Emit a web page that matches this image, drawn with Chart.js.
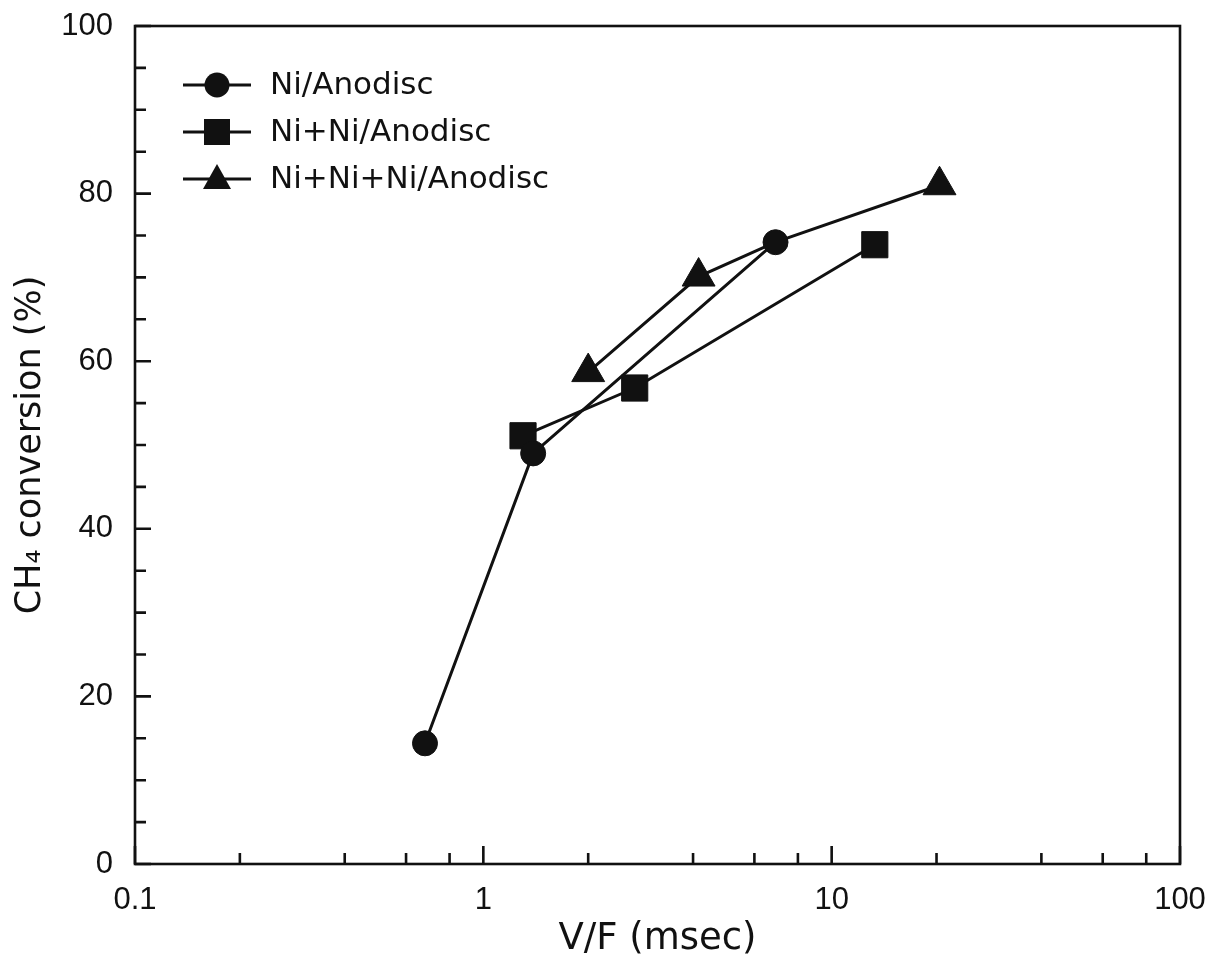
<!DOCTYPE html>
<html>
<head>
<meta charset="utf-8">
<script src="https://cdn.jsdelivr.net/npm/chart.js@4/dist/chart.umd.min.js"></script>
<style>
  body { margin: 0; background: #fff; }
  canvas { display: block; }
</style>
</head>
<body>
<canvas id="myChart" width="1214" height="962"></canvas>
<script>
// series (V/F in msec, CH4 conversion in %)
const seriesLabels = ['Ni/Anodisc', 'Ni+Ni/Anodisc', 'Ni+Ni+Ni/Anodisc'];
const niX = [0.68, 1.39, 6.9];
const niY = [14.4, 49.0, 74.2];
const ni2X = [1.30, 2.72, 13.3];
const ni2Y = [51.1, 56.8, 73.9];
const ni3X = [2.0, 4.15, 6.9, 20.4];
const ni3Y = [58.7, 70.1, 74.2, 81.0];
const xTicks = [0.1, 1, 10, 100];
const xMinor = [2, 4, 6, 8];
const yMin = 0, yMax = 100, yStep = 20, yMinorStep = 5;

const ink = '#111';
const styles = ['circle', 'rect', 'triangle'];
const radii = [12.5, 18.5, 19];

function toPoints(xs, ys) {
    return xs.map((v, i) => ({x: v, y: ys[i]}));
}

// inward ticks, closed frame and the legend drawn in the top-left corner
const frameTicks = {
    id: 'frameTicks',
    afterDraw(chart) {
        const {ctx, chartArea: a, scales: {x, y}} = chart;
        ctx.save();
        ctx.strokeStyle = ink;
        ctx.lineWidth = 2.6;
        ctx.strokeRect(a.left, a.top, a.right - a.left, a.bottom - a.top);

        ctx.beginPath();
        for (let v = yMin; v <= yMax; v += yMinorStep) {
            let py = y.getPixelForValue(v);
            let len = v % yStep === 0 ? 16 : 11;
            ctx.moveTo(a.left, py);
            ctx.lineTo(a.left + len, py);
        }
        for (let d of xTicks) {
            let px = x.getPixelForValue(d);
            ctx.moveTo(px, a.bottom);
            ctx.lineTo(px, a.bottom - 18);
            if (d < 100) {
                for (let m of xMinor) {
                    let pm = x.getPixelForValue(d * m);
                    ctx.moveTo(pm, a.bottom);
                    ctx.lineTo(pm, a.bottom - 11);
                }
            }
        }
        ctx.stroke();

        // legend
        ctx.font = '31px "DejaVu Sans"';
        ctx.textBaseline = 'middle';
        ctx.fillStyle = ink;
        ctx.lineWidth = 3;
        chart.data.datasets.forEach((ds, i) => {
            let ry = a.top + 59 + i * 47;
            ctx.beginPath();
            ctx.moveTo(a.left + 48, ry);
            ctx.lineTo(a.left + 116, ry);
            ctx.stroke();
            let cx = a.left + 82;
            ctx.beginPath();
            if (styles[i] === 'circle') {
                ctx.arc(cx, ry, 12.5, 0, Math.PI * 2);
            } else if (styles[i] === 'rect') {
                ctx.rect(cx - 13, ry - 13, 26, 26);
            } else {
                ctx.moveTo(cx, ry - 15);
                ctx.lineTo(cx + 14, ry + 10);
                ctx.lineTo(cx - 14, ry + 10);
                ctx.closePath();
            }
            ctx.fill();
            ctx.fillText(ds.label, a.left + 135, ry + 1);
        });
        ctx.restore();
    }
};

function makeSet(label, xs, ys, i, radiusList) {
    return {
        label: label,
        data: toPoints(xs, ys),
        showLine: true,
        borderColor: ink,
        borderWidth: 3,
        backgroundColor: ink,
        pointStyle: styles[i],
        pointRadius: radiusList || radii[i],
        pointBorderWidth: 1,
        pointBorderColor: ink,
        pointBackgroundColor: ink
    };
}

const ctx = document.getElementById('myChart');
const myChart = new Chart(ctx, {
    type: 'scatter',
    data: {
        datasets: [
            makeSet(seriesLabels[0], niX, niY, 0),
            makeSet(seriesLabels[1], ni2X, ni2Y, 1),
            // third point sits under the circle marker
            makeSet(seriesLabels[2], ni3X, ni3Y, 2, [19, 19, 0, 19])
        ]
    },
    options: {
        responsive: false,
        animation: false,
        layout: { padding: { top: 26, right: 34, left: 0, bottom: 0 } },
        plugins: {
            legend: { display: false },
            tooltip: { enabled: false }
        },
        scales: {
            x: {
                type: 'logarithmic',
                min: 0.1,
                max: 100,
                afterBuildTicks: function (scale) {
                    scale.ticks = xTicks.map(v => ({value: v, major: true}));
                },
                afterFit: function (scale) {
                    scale.height = 98;
                    scale.paddingLeft = 0;
                    scale.paddingRight = 0;
                },
                grid: { display: false, drawTicks: false },
                border: { display: false },
                ticks: {
                    autoSkip: false,
                    maxRotation: 0,
                    padding: 18,
                    color: ink,
                    font: { family: '"Liberation Sans", Arial', size: 31 },
                    callback: function (v) { return String(v); }
                },
                title: {
                    display: true,
                    text: 'V/F (msec)',
                    color: ink,
                    padding: 0,
                    font: { family: '"DejaVu Sans"', size: 37 }
                }
            },
            y: {
                min: yMin,
                max: yMax,
                afterFit: function (scale) {
                    scale.width = 135;
                    scale.paddingTop = 0;
                    scale.paddingBottom = 0;
                },
                grid: { display: false, drawTicks: false },
                border: { display: false },
                ticks: {
                    stepSize: yStep,
                    padding: 22,
                    color: ink,
                    font: { family: '"Liberation Sans", Arial', size: 31 }
                },
                title: {
                    display: true,
                    text: 'CH\u2084 conversion (%)',
                    color: ink,
                    padding: { top: 10, bottom: 0 },
                    font: { family: '"DejaVu Sans"', size: 35 }
                }
            }
        }
    },
    plugins: [frameTicks]
});
</script>
</body>
</html>
